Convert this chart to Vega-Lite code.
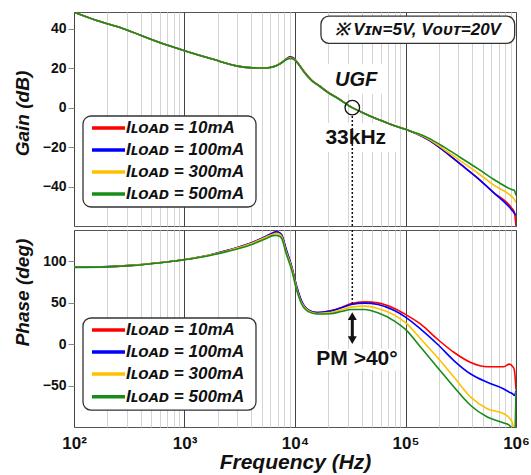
{
  "$schema": "https://vega.github.io/schema/vega-lite/v6.json",
  "background": "white",
  "padding": {"left": 12, "top": 11, "right": 4, "bottom": 2},
  "spacing": 0,
  "config": {
    "font": "Liberation Sans",
    "view": {"stroke": "#555", "strokeWidth": 1},
    "axis": {
      "labelFont": "Liberation Sans", "labelFontWeight": "bold", "labelColor": "#111", "labelFontSize": 14,
      "titleFont": "Liberation Sans", "titleFontWeight": "bold", "titleFontStyle": "italic", "titleColor": "#111", "titleFontSize": 19,
      "gridColor": "#5c5c5c", "gridOpacity": 1, "tickColor": "#888", "domain": false
    },
    "text": {"font": "Liberation Sans", "fontWeight": "bold", "color": "#111"}
  },
  "datasets": {
    "gain": [
      {"load":"10mA","f":100,"db":48.4},{"load":"10mA","f":158,"db":44.3},{"load":"10mA","f":280,"db":40},{"load":"10mA","f":603,"db":32.9},{"load":"10mA","f":1000,"db":28.9},{"load":"10mA","f":1820,"db":24.5},{"load":"10mA","f":2951,"db":21.2},{"load":"10mA","f":3890,"db":20.3},{"load":"10mA","f":5012,"db":20.1},{"load":"10mA","f":5957,"db":20.4},{"load":"10mA","f":6761,"db":21.3},{"load":"10mA","f":7413,"db":22.5},{"load":"10mA","f":8318,"db":24.7},{"load":"10mA","f":9016,"db":25.7},{"load":"10mA","f":9441,"db":25.5},{"load":"10mA","f":10000,"db":24.5},{"load":"10mA","f":10715,"db":22.4},{"load":"10mA","f":11912,"db":18.8},{"load":"10mA","f":14125,"db":14.0},{"load":"10mA","f":16943,"db":10.8},{"load":"10mA","f":19953,"db":7.8},{"load":"10mA","f":23988,"db":5.1},{"load":"10mA","f":32885,"db":0},{"load":"10mA","f":39811,"db":-2.2},{"load":"10mA","f":48641,"db":-4.5},{"load":"10mA","f":56234,"db":-5.9},{"load":"10mA","f":74131,"db":-8.5},{"load":"10mA","f":100000,"db":-11},{"load":"10mA","f":125893,"db":-13.3},{"load":"10mA","f":158489,"db":-16.1},{"load":"10mA","f":223872,"db":-22},{"load":"10mA","f":316228,"db":-28.8},{"load":"10mA","f":446684,"db":-35.6},{"load":"10mA","f":630957,"db":-43.2},{"load":"10mA","f":912011,"db":-50.8},{"load":"10mA","f":966051,"db":-53},{"load":"10mA","f":1000000,"db":-60},
      {"load":"100mA","f":100,"db":48.4},{"load":"100mA","f":158,"db":44.3},{"load":"100mA","f":280,"db":40},{"load":"100mA","f":603,"db":32.9},{"load":"100mA","f":1000,"db":28.9},{"load":"100mA","f":1820,"db":24.5},{"load":"100mA","f":2951,"db":21.2},{"load":"100mA","f":3890,"db":20.3},{"load":"100mA","f":5012,"db":20.1},{"load":"100mA","f":5957,"db":20.4},{"load":"100mA","f":6761,"db":21.3},{"load":"100mA","f":7413,"db":22.5},{"load":"100mA","f":8318,"db":24.6},{"load":"100mA","f":9016,"db":25.6},{"load":"100mA","f":9441,"db":25.4},{"load":"100mA","f":10000,"db":24.4},{"load":"100mA","f":10715,"db":22.3},{"load":"100mA","f":11912,"db":18.6},{"load":"100mA","f":14125,"db":13.8},{"load":"100mA","f":16943,"db":10.6},{"load":"100mA","f":19953,"db":7.6},{"load":"100mA","f":23988,"db":5.0},{"load":"100mA","f":32885,"db":0},{"load":"100mA","f":39811,"db":-2.2},{"load":"100mA","f":48641,"db":-4.5},{"load":"100mA","f":56234,"db":-5.9},{"load":"100mA","f":74131,"db":-8.5},{"load":"100mA","f":100000,"db":-11},{"load":"100mA","f":125893,"db":-13.3},{"load":"100mA","f":158489,"db":-16.1},{"load":"100mA","f":223872,"db":-22},{"load":"100mA","f":316228,"db":-28.8},{"load":"100mA","f":446684,"db":-35.6},{"load":"100mA","f":630957,"db":-43.2},{"load":"100mA","f":912011,"db":-51.7},{"load":"100mA","f":966051,"db":-53.5},{"load":"100mA","f":1000000,"db":-54.5},
      {"load":"300mA","f":100,"db":48.4},{"load":"300mA","f":158,"db":44.3},{"load":"300mA","f":280,"db":40},{"load":"300mA","f":603,"db":32.9},{"load":"300mA","f":1000,"db":28.9},{"load":"300mA","f":1820,"db":24.5},{"load":"300mA","f":2951,"db":21.2},{"load":"300mA","f":3890,"db":20.3},{"load":"300mA","f":5012,"db":20.1},{"load":"300mA","f":5957,"db":20.4},{"load":"300mA","f":6761,"db":21.3},{"load":"300mA","f":7413,"db":22.5},{"load":"300mA","f":8318,"db":24.5},{"load":"300mA","f":9016,"db":25.3},{"load":"300mA","f":9441,"db":25.1},{"load":"300mA","f":10000,"db":24.2},{"load":"300mA","f":10715,"db":22.2},{"load":"300mA","f":11912,"db":18.6},{"load":"300mA","f":14125,"db":13.8},{"load":"300mA","f":16943,"db":10.6},{"load":"300mA","f":19953,"db":7.6},{"load":"300mA","f":23988,"db":5.0},{"load":"300mA","f":32885,"db":0},{"load":"300mA","f":39811,"db":-2.2},{"load":"300mA","f":48641,"db":-4.5},{"load":"300mA","f":56234,"db":-5.9},{"load":"300mA","f":74131,"db":-8.5},{"load":"300mA","f":100000,"db":-11},{"load":"300mA","f":125893,"db":-13.1},{"load":"300mA","f":158489,"db":-15.6},{"load":"300mA","f":223872,"db":-21.2},{"load":"300mA","f":316228,"db":-27.1},{"load":"300mA","f":446684,"db":-33},{"load":"300mA","f":630957,"db":-39.3},{"load":"300mA","f":912011,"db":-45},{"load":"300mA","f":966051,"db":-46.5},{"load":"300mA","f":1000000,"db":-48},
      {"load":"500mA","f":100,"db":48.4},{"load":"500mA","f":158,"db":44.3},{"load":"500mA","f":280,"db":40},{"load":"500mA","f":603,"db":32.9},{"load":"500mA","f":1000,"db":28.9},{"load":"500mA","f":1820,"db":24.5},{"load":"500mA","f":2951,"db":21.2},{"load":"500mA","f":3890,"db":20.3},{"load":"500mA","f":5012,"db":20.1},{"load":"500mA","f":5957,"db":20.4},{"load":"500mA","f":6761,"db":21.3},{"load":"500mA","f":7413,"db":22.4},{"load":"500mA","f":8318,"db":24.3},{"load":"500mA","f":9016,"db":25.0},{"load":"500mA","f":9441,"db":24.8},{"load":"500mA","f":10000,"db":24.0},{"load":"500mA","f":10715,"db":22.1},{"load":"500mA","f":11912,"db":18.5},{"load":"500mA","f":14125,"db":13.8},{"load":"500mA","f":16943,"db":10.6},{"load":"500mA","f":19953,"db":7.6},{"load":"500mA","f":23988,"db":5.0},{"load":"500mA","f":32885,"db":0},{"load":"500mA","f":39811,"db":-2.2},{"load":"500mA","f":48641,"db":-4.5},{"load":"500mA","f":56234,"db":-5.9},{"load":"500mA","f":74131,"db":-8.5},{"load":"500mA","f":100000,"db":-11},{"load":"500mA","f":125893,"db":-12.9},{"load":"500mA","f":158489,"db":-15.2},{"load":"500mA","f":223872,"db":-20},{"load":"500mA","f":316228,"db":-25.4},{"load":"500mA","f":446684,"db":-30.8},{"load":"500mA","f":630957,"db":-36.4},{"load":"500mA","f":912011,"db":-41.5},{"load":"500mA","f":966051,"db":-42},{"load":"500mA","f":1000000,"db":-44.5}
    ],
    "phase": [
      {"load":"10mA","f":100,"deg":93},{"load":"10mA","f":200,"deg":93.6},{"load":"10mA","f":355,"deg":95.6},{"load":"10mA","f":617,"deg":98.8},{"load":"10mA","f":1000,"deg":102.4},{"load":"10mA","f":1660,"deg":107.6},{"load":"10mA","f":2512,"deg":113.7},{"load":"10mA","f":3890,"deg":121.7},{"load":"10mA","f":5495,"deg":130.5},{"load":"10mA","f":6310,"deg":134.5},{"load":"10mA","f":6761,"deg":135.7},{"load":"10mA","f":7244,"deg":134.5},{"load":"10mA","f":7586,"deg":131.7},{"load":"10mA","f":8318,"deg":113.7},{"load":"10mA","f":9333,"deg":93.6},{"load":"10mA","f":10351,"deg":69.5},{"load":"10mA","f":11482,"deg":51.4},{"load":"10mA","f":13183,"deg":41.4},{"load":"10mA","f":15849,"deg":38.2},{"load":"10mA","f":20893,"deg":40.5},{"load":"10mA","f":26303,"deg":44.5},{"load":"10mA","f":32359,"deg":49.2},{"load":"10mA","f":42658,"deg":51.2},{"load":"10mA","f":56234,"deg":50},{"load":"10mA","f":79433,"deg":43.2},{"load":"10mA","f":100000,"deg":36},{"load":"10mA","f":138038,"deg":24},{"load":"10mA","f":194984,"deg":6},{"load":"10mA","f":275423,"deg":-10},{"load":"10mA","f":389045,"deg":-22},{"load":"10mA","f":549541,"deg":-27.2},{"load":"10mA","f":776247,"deg":-27.2},{"load":"10mA","f":870964,"deg":-24},{"load":"10mA","f":933254,"deg":-27},{"load":"10mA","f":966051,"deg":-31},{"load":"10mA","f":1000000,"deg":-55},
      {"load":"100mA","f":100,"deg":93.3},{"load":"100mA","f":200,"deg":93.8},{"load":"100mA","f":355,"deg":95.6},{"load":"100mA","f":617,"deg":98.8},{"load":"100mA","f":1000,"deg":102.4},{"load":"100mA","f":1660,"deg":107.6},{"load":"100mA","f":2512,"deg":113.7},{"load":"100mA","f":3890,"deg":121.7},{"load":"100mA","f":5495,"deg":130.5},{"load":"100mA","f":6310,"deg":134.5},{"load":"100mA","f":6761,"deg":135.7},{"load":"100mA","f":7244,"deg":134.8},{"load":"100mA","f":7586,"deg":132},{"load":"100mA","f":8318,"deg":115},{"load":"100mA","f":9333,"deg":94},{"load":"100mA","f":10351,"deg":70},{"load":"100mA","f":11482,"deg":52},{"load":"100mA","f":13183,"deg":41.4},{"load":"100mA","f":15849,"deg":38.2},{"load":"100mA","f":20893,"deg":40},{"load":"100mA","f":26303,"deg":44},{"load":"100mA","f":32359,"deg":48},{"load":"100mA","f":42658,"deg":49.6},{"load":"100mA","f":56234,"deg":48},{"load":"100mA","f":79433,"deg":40.8},{"load":"100mA","f":100000,"deg":32.8},{"load":"100mA","f":138038,"deg":18},{"load":"100mA","f":194984,"deg":0},{"load":"100mA","f":275423,"deg":-20},{"load":"100mA","f":389045,"deg":-36},{"load":"100mA","f":549541,"deg":-46},{"load":"100mA","f":776247,"deg":-54},{"load":"100mA","f":870964,"deg":-58},{"load":"100mA","f":933254,"deg":-60},{"load":"100mA","f":966051,"deg":-62},{"load":"100mA","f":1000000,"deg":-56},
      {"load":"300mA","f":100,"deg":93},{"load":"300mA","f":200,"deg":93.6},{"load":"300mA","f":355,"deg":95.6},{"load":"300mA","f":617,"deg":98.8},{"load":"300mA","f":1000,"deg":102.4},{"load":"300mA","f":1660,"deg":107.4},{"load":"300mA","f":2512,"deg":113.3},{"load":"300mA","f":3890,"deg":121},{"load":"300mA","f":5495,"deg":129.5},{"load":"300mA","f":6310,"deg":133},{"load":"300mA","f":6761,"deg":134},{"load":"300mA","f":7244,"deg":133},{"load":"300mA","f":7586,"deg":130},{"load":"300mA","f":8318,"deg":112},{"load":"300mA","f":9333,"deg":92},{"load":"300mA","f":10351,"deg":67.5},{"load":"300mA","f":11482,"deg":50},{"load":"300mA","f":13183,"deg":40.5},{"load":"300mA","f":15849,"deg":37.2},{"load":"300mA","f":20893,"deg":38.2},{"load":"300mA","f":26303,"deg":41.5},{"load":"300mA","f":32359,"deg":44.8},{"load":"300mA","f":42658,"deg":46},{"load":"300mA","f":56234,"deg":43.2},{"load":"300mA","f":79433,"deg":35.2},{"load":"300mA","f":100000,"deg":26},{"load":"300mA","f":138038,"deg":6},{"load":"300mA","f":194984,"deg":-16},{"load":"300mA","f":275423,"deg":-40},{"load":"300mA","f":389045,"deg":-64},{"load":"300mA","f":549541,"deg":-78},{"load":"300mA","f":776247,"deg":-84},{"load":"300mA","f":870964,"deg":-89},{"load":"300mA","f":933254,"deg":-96},{"load":"300mA","f":966051,"deg":-130},{"load":"300mA","f":1000000,"deg":-58},
      {"load":"500mA","f":100,"deg":92.8},{"load":"500mA","f":200,"deg":93.5},{"load":"500mA","f":355,"deg":95.3},{"load":"500mA","f":617,"deg":98.5},{"load":"500mA","f":1000,"deg":102},{"load":"500mA","f":1660,"deg":107},{"load":"500mA","f":2512,"deg":112.5},{"load":"500mA","f":3890,"deg":119.7},{"load":"500mA","f":5495,"deg":127.7},{"load":"500mA","f":6310,"deg":131.2},{"load":"500mA","f":6761,"deg":131.5},{"load":"500mA","f":7244,"deg":130.5},{"load":"500mA","f":7586,"deg":127.7},{"load":"500mA","f":8318,"deg":109.6},{"load":"500mA","f":9333,"deg":89.6},{"load":"500mA","f":10351,"deg":65.5},{"load":"500mA","f":11482,"deg":48.6},{"load":"500mA","f":13183,"deg":39.4},{"load":"500mA","f":15849,"deg":36.5},{"load":"500mA","f":20893,"deg":36.8},{"load":"500mA","f":26303,"deg":39.5},{"load":"500mA","f":32359,"deg":42},{"load":"500mA","f":42658,"deg":42},{"load":"500mA","f":56234,"deg":38},{"load":"500mA","f":79433,"deg":28},{"load":"500mA","f":100000,"deg":18},{"load":"500mA","f":138038,"deg":-4},{"load":"500mA","f":194984,"deg":-28},{"load":"500mA","f":275423,"deg":-52},{"load":"500mA","f":389045,"deg":-74},{"load":"500mA","f":549541,"deg":-88},{"load":"500mA","f":776247,"deg":-95.2},{"load":"500mA","f":870964,"deg":-98},{"load":"500mA","f":933254,"deg":-104},{"load":"500mA","f":966051,"deg":-130},{"load":"500mA","f":1000000,"deg":-57}
    ]
  },
  "vconcat": [
    {
      "width": 442,
      "height": 214,
      "layer": [
        {
          "data": {"values": [{}]},
          "mark": {"type": "rect", "fill": "white"},
          "encoding": {
            "x": {"datum": 15560, "type": "quantitative", "scale": {"type": "log", "domain": [100, 1000000], "nice": false}},
            "x2": {"datum": 61700},
            "y": {"datum": 22.1, "type": "quantitative", "scale": {"domain": [-60, 48.5], "nice": false, "zero": false}},
            "y2": {"datum": 6.9}
          }
        },
        {
          "data": {"values": [{}]},
          "mark": {"type": "rect", "fill": "white"},
          "encoding": {
            "x": {"datum": 15560, "type": "quantitative"},
            "x2": {"datum": 84300},
            "y": {"datum": -7.8, "type": "quantitative"},
            "y2": {"datum": -22.5}
          }
        },
        {
          "data": {"name": "gain"},
          "mark": {"type": "line", "strokeWidth": 1.6, "clip": true, "interpolate": "monotone"},
          "encoding": {
            "x": {
              "field": "f", "type": "quantitative",
              "scale": {"type": "log", "domain": [100, 1000000], "nice": false},
              "axis": {
                "values": [100,200,300,400,500,600,700,800,900,1000,2000,3000,4000,5000,6000,7000,8000,9000,10000,20000,30000,40000,50000,60000,70000,80000,90000,100000,200000,300000,400000,500000,600000,700000,800000,900000,1000000],
                "grid": true,
                "gridColor": {"condition": {"test": "indexof([100,1000,10000,100000,1000000], datum.value) >= 0", "value": "#444"}, "value": "#d4d4d4"},
                "labels": false, "ticks": false, "title": null
              }
            },
            "y": {
              "field": "db", "type": "quantitative",
              "scale": {"domain": [-60, 48.5], "nice": false, "zero": false},
              "axis": {"values": [-40,-20,0,20,40], "title": "Gain (dB)", "tickSize": 6, "labelPadding": 2, "titleX": -42, "titleY": 101}
            },
            "color": {
              "field": "load", "type": "nominal",
              "scale": {"domain": ["10mA","100mA","300mA","500mA"], "range": ["#ff0000","#0000ff","#ffc000","#178c17"]},
              "legend": null
            }
          }
        },
        {
          "data": {"values": [{}]},
          "mark": {"type": "rect", "fill": "white", "stroke": "#333", "strokeWidth": 1.3, "cornerRadius": 8},
          "encoding": {
            "x": {"datum": 120.6, "type": "quantitative"},
            "x2": {"datum": 4436},
            "y": {"datum": -4.23, "type": "quantitative"},
            "y2": {"datum": -50.36}
          }
        },
        {"data": {"values": [{}]}, "mark": {"type": "rule", "stroke": "#ff0000", "strokeWidth": 3.5},
         "encoding": {"x": {"datum": 145.5, "type": "quantitative"}, "x2": {"datum": 289.4}, "y": {"datum": -10.31, "type": "quantitative"}}},
        {"data": {"values": [{}]}, "mark": {"type": "rule", "stroke": "#0000ff", "strokeWidth": 3.5},
         "encoding": {"x": {"datum": 145.5, "type": "quantitative"}, "x2": {"datum": 289.4}, "y": {"datum": -21.47, "type": "quantitative"}}},
        {"data": {"values": [{}]}, "mark": {"type": "rule", "stroke": "#ffc000", "strokeWidth": 3.5},
         "encoding": {"x": {"datum": 145.5, "type": "quantitative"}, "x2": {"datum": 289.4}, "y": {"datum": -32.62, "type": "quantitative"}}},
        {"data": {"values": [{}]}, "mark": {"type": "rule", "stroke": "#178c17", "strokeWidth": 3.5},
         "encoding": {"x": {"datum": 145.5, "type": "quantitative"}, "x2": {"datum": 289.4}, "y": {"datum": -43.77, "type": "quantitative"}}},
        {"data": {"values": [{}]}, "mark": {"type": "text", "text": "Iʟᴏᴀᴅ = 10mA", "fontSize": 17, "fontStyle": "italic", "align": "left", "baseline": "middle"},
         "encoding": {"x": {"datum": 295.5, "type": "quantitative"}, "y": {"datum": -10.31, "type": "quantitative"}}},
        {"data": {"values": [{}]}, "mark": {"type": "text", "text": "Iʟᴏᴀᴅ = 100mA", "fontSize": 17, "fontStyle": "italic", "align": "left", "baseline": "middle"},
         "encoding": {"x": {"datum": 295.5, "type": "quantitative"}, "y": {"datum": -21.47, "type": "quantitative"}}},
        {"data": {"values": [{}]}, "mark": {"type": "text", "text": "Iʟᴏᴀᴅ = 300mA", "fontSize": 17, "fontStyle": "italic", "align": "left", "baseline": "middle"},
         "encoding": {"x": {"datum": 295.5, "type": "quantitative"}, "y": {"datum": -32.62, "type": "quantitative"}}},
        {"data": {"values": [{}]}, "mark": {"type": "text", "text": "Iʟᴏᴀᴅ = 500mA", "fontSize": 17, "fontStyle": "italic", "align": "left", "baseline": "middle"},
         "encoding": {"x": {"datum": 295.5, "type": "quantitative"}, "y": {"datum": -43.77, "type": "quantitative"}}},
        {
          "data": {"values": [{}]},
          "mark": {"type": "rect", "fill": "white", "stroke": "#333", "strokeWidth": 1.3, "cornerRadius": 8},
          "encoding": {
            "x": {"datum": 17170, "type": "quantitative"},
            "x2": {"datum": 972600},
            "y": {"datum": 46.4, "type": "quantitative"},
            "y2": {"datum": 32.6}
          }
        },
        {
          "data": {"values": [{}]},
          "mark": {"type": "text", "text": "※ Vɪɴ=5V, Vᴏᴜᴛ=20V", "fontSize": 17, "fontStyle": "italic", "align": "center", "baseline": "middle"},
          "encoding": {
            "x": {"datum": 129100, "type": "quantitative"},
            "y": {"datum": 39.6, "type": "quantitative"}
          }
        },
        {
          "data": {"values": [{}]},
          "mark": {"type": "text", "text": "UGF", "fontSize": 20, "fontStyle": "italic", "align": "center", "baseline": "middle"},
          "encoding": {
            "x": {"datum": 35800, "type": "quantitative"},
            "y": {"datum": 14.0, "type": "quantitative"}
          }
        },
        {
          "data": {"values": [{}]},
          "mark": {"type": "text", "text": "33kHz", "fontSize": 21, "align": "center", "baseline": "middle"},
          "encoding": {
            "x": {"datum": 35460, "type": "quantitative"},
            "y": {"datum": -15.4, "type": "quantitative"}
          }
        },
        {
          "data": {"values": [{}]},
          "mark": {"type": "point", "shape": "circle", "size": 210, "filled": false, "stroke": "#111", "strokeWidth": 1.3, "opacity": 1},
          "encoding": {
            "x": {"datum": 33000, "type": "quantitative"},
            "y": {"datum": 0, "type": "quantitative"}
          }
        },
        {
          "data": {"values": [{}]},
          "mark": {"type": "rule", "stroke": "#111", "strokeWidth": 1.5, "strokeDash": [2, 2]},
          "encoding": {
            "x": {"datum": 33000, "type": "quantitative"},
            "y": {"datum": -4.2, "type": "quantitative"},
            "y2": {"datum": -60}
          }
        }
      ]
    },
    {
      "width": 442,
      "height": 197,
      "layer": [
        {
          "data": {"values": [{}]},
          "mark": {"type": "rect", "fill": "white"},
          "encoding": {
            "x": {"datum": 14620, "type": "quantitative", "scale": {"type": "log", "domain": [100, 1000000], "nice": false}},
            "x2": {"datum": 89800},
            "y": {"datum": -5.7, "type": "quantitative", "scale": {"domain": [-100, 138], "nice": false, "zero": false}},
            "y2": {"datum": -32.1}
          }
        },
        {
          "data": {"name": "phase"},
          "mark": {"type": "line", "strokeWidth": 1.6, "clip": true, "interpolate": "monotone"},
          "encoding": {
            "x": {
              "field": "f", "type": "quantitative",
              "scale": {"type": "log", "domain": [100, 1000000], "nice": false},
              "axis": {
                "values": [100,200,300,400,500,600,700,800,900,1000,2000,3000,4000,5000,6000,7000,8000,9000,10000,20000,30000,40000,50000,60000,70000,80000,90000,100000,200000,300000,400000,500000,600000,700000,800000,900000,1000000],
                "grid": true,
                "gridColor": {"condition": {"test": "indexof([100,1000,10000,100000,1000000], datum.value) >= 0", "value": "#444"}, "value": "#d4d4d4"},
                "ticks": false, "labelOverlap": false, "labelFlush": false, "labelFontSize": 17, "labelPadding": 8,
                "labelExpr": "datum.value == 100 ? '10²' : datum.value == 1000 ? '10³' : datum.value == 10000 ? '10⁴' : datum.value == 100000 ? '10⁵' : datum.value == 1000000 ? '10⁶' : ''",
                "title": "Frequency (Hz)", "titleFontSize": 21, "titlePadding": 0
              }
            },
            "y": {
              "field": "deg", "type": "quantitative",
              "scale": {"domain": [-100, 138], "nice": false, "zero": false},
              "axis": {"values": [-50,0,50,100], "title": "Phase (deg)", "tickSize": 6, "labelPadding": 2, "titleX": -42, "titleY": 62}
            },
            "color": {
              "field": "load", "type": "nominal",
              "scale": {"domain": ["10mA","100mA","300mA","500mA"], "range": ["#ff0000","#0000ff","#ffc000","#178c17"]},
              "legend": null
            }
          }
        },
        {
          "data": {"values": [{}]},
          "mark": {"type": "rect", "fill": "white", "stroke": "#333", "strokeWidth": 1.3, "cornerRadius": 8},
          "encoding": {
            "x": {"datum": 120.6, "type": "quantitative"},
            "x2": {"datum": 4436},
            "y": {"datum": 31.7, "type": "quantitative"},
            "y2": {"datum": -79.5}
          }
        },
        {"data": {"values": [{}]}, "mark": {"type": "rule", "stroke": "#ff0000", "strokeWidth": 3.5},
         "encoding": {"x": {"datum": 145.5, "type": "quantitative"}, "x2": {"datum": 289.4}, "y": {"datum": 17.2, "type": "quantitative"}}},
        {"data": {"values": [{}]}, "mark": {"type": "rule", "stroke": "#0000ff", "strokeWidth": 3.5},
         "encoding": {"x": {"datum": 145.5, "type": "quantitative"}, "x2": {"datum": 289.4}, "y": {"datum": -9.4, "type": "quantitative"}}},
        {"data": {"values": [{}]}, "mark": {"type": "rule", "stroke": "#ffc000", "strokeWidth": 3.5},
         "encoding": {"x": {"datum": 145.5, "type": "quantitative"}, "x2": {"datum": 289.4}, "y": {"datum": -36.0, "type": "quantitative"}}},
        {"data": {"values": [{}]}, "mark": {"type": "rule", "stroke": "#178c17", "strokeWidth": 3.5},
         "encoding": {"x": {"datum": 145.5, "type": "quantitative"}, "x2": {"datum": 289.4}, "y": {"datum": -63.4, "type": "quantitative"}}},
        {"data": {"values": [{}]}, "mark": {"type": "text", "text": "Iʟᴏᴀᴅ = 10mA", "fontSize": 17, "fontStyle": "italic", "align": "left", "baseline": "middle"},
         "encoding": {"x": {"datum": 295.5, "type": "quantitative"}, "y": {"datum": 17.2, "type": "quantitative"}}},
        {"data": {"values": [{}]}, "mark": {"type": "text", "text": "Iʟᴏᴀᴅ = 100mA", "fontSize": 17, "fontStyle": "italic", "align": "left", "baseline": "middle"},
         "encoding": {"x": {"datum": 295.5, "type": "quantitative"}, "y": {"datum": -9.4, "type": "quantitative"}}},
        {"data": {"values": [{}]}, "mark": {"type": "text", "text": "Iʟᴏᴀᴅ = 300mA", "fontSize": 17, "fontStyle": "italic", "align": "left", "baseline": "middle"},
         "encoding": {"x": {"datum": 295.5, "type": "quantitative"}, "y": {"datum": -36.0, "type": "quantitative"}}},
        {"data": {"values": [{}]}, "mark": {"type": "text", "text": "Iʟᴏᴀᴅ = 500mA", "fontSize": 17, "fontStyle": "italic", "align": "left", "baseline": "middle"},
         "encoding": {"x": {"datum": 295.5, "type": "quantitative"}, "y": {"datum": -63.4, "type": "quantitative"}}},
        {
          "data": {"values": [{}]},
          "mark": {"type": "rule", "stroke": "#111", "strokeWidth": 1.5, "strokeDash": [2, 2]},
          "encoding": {
            "x": {"datum": 33000, "type": "quantitative"},
            "y": {"datum": 138, "type": "quantitative"},
            "y2": {"datum": 49}
          }
        },
        {
          "data": {"values": [{}]},
          "mark": {"type": "rule", "stroke": "#111", "strokeWidth": 3},
          "encoding": {
            "x": {"datum": 33000, "type": "quantitative"},
            "y": {"datum": 33, "type": "quantitative"},
            "y2": {"datum": 6}
          }
        },
        {
          "data": {"values": [{}]},
          "mark": {"type": "point", "shape": "triangle-up", "size": 80, "filled": true, "color": "#111", "opacity": 1},
          "encoding": {
            "x": {"datum": 33000, "type": "quantitative"},
            "y": {"datum": 34, "type": "quantitative"}
          }
        },
        {
          "data": {"values": [{}]},
          "mark": {"type": "point", "shape": "triangle-down", "size": 80, "filled": true, "color": "#111", "opacity": 1},
          "encoding": {
            "x": {"datum": 33000, "type": "quantitative"},
            "y": {"datum": 5, "type": "quantitative"}
          }
        },
        {
          "data": {"values": [{}]},
          "mark": {"type": "text", "text": "PM >40°", "fontSize": 21, "align": "center", "baseline": "middle"},
          "encoding": {
            "x": {"datum": 36380, "type": "quantitative"},
            "y": {"datum": -17.3, "type": "quantitative"}
          }
        }
      ]
    }
  ]
}
